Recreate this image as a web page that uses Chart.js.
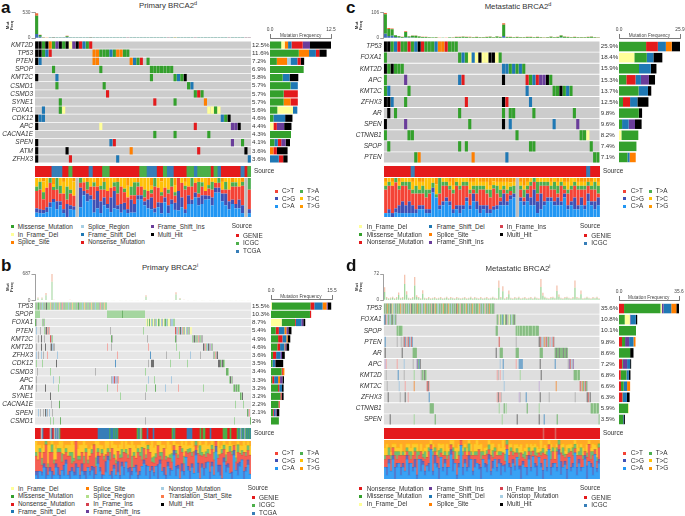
<!DOCTYPE html>
<html><head><meta charset="utf-8">
<style>
html,body{margin:0;padding:0;background:#fff;width:685px;height:516px;overflow:hidden;font-family:"Liberation Sans",Arial,sans-serif;color:#333}
canvas{position:absolute;display:block}
.t{position:absolute;white-space:nowrap;line-height:1;transform:translateY(-50%)}
.m{position:absolute}
sup{font-size:70%;line-height:0}
</style>
<script src="https://cdn.jsdelivr.net/npm/chart.js@4/dist/chart.umd.min.js"></script>
</head><body>
<script>
/* ---------- colours by mutation code ---------- */
const typeColors={M:'#33a02c',N:'#e31a1c',D:'#1f78b4',I:'#6a3d9a',S:'#ff7f00',Y:'#ffff99',H:'#000000',L:'#a6cee3',
 g:'#a5d6a0',G:'#6fb36a',k:'#b5b5b5',K:'#707070',o:'#f5c99c',O:'#f09a50',b:'#a9c9e0',B:'#5c9ac8',r:'#f2aaa6',R:'#d9605c',p:'#c7b2d8',P:'#8f6fb3',y:'#f7f7b5',
 U:'#4daf4a',V:'#377eb8'};
const substColors=['#2196f3','#3f51b5','#f44336','#4caf50','#ffc107','#ff9800'];
const substColorsDense=['rgba(33,150,243,.85)','rgba(63,81,181,.8)','rgba(244,67,54,.8)','rgba(76,175,80,.75)','rgba(255,193,7,.8)','rgba(255,152,0,.8)'];

/* ---------- panel a : Primary BRCA2 d ---------- */
const aGenes=['KMT2D','TP53','PTEN','SPOP','KMT2C','CSMD1','CSMD3','SYNE1','FOXA1','CDK12','APC','CACNA1E','SPEN','ATM','ZFHX3'];
const aPct=['12.5%','11.6%','7.2%','6.9%','5.8%','5.7%','5.7%','5.7%','5.6%','4.6%','4.4%','4.3%','4.1%','3.6%','3.6%'];
const aRows=['0:HHMHSMIHMHYIHNDMN','0:HHMDN 17:SSMMMDMSSMM','0:HD 17:SS 28:SDMN 33:M','5:M 19:M 34:MMMMMMM','0:H 6:D 34:M 41:MDMH','6:M 20:M 45:MD','21:N 47:MNM','7:M 35:N 41:M 50:S','2:D 7:MY 51:YYMY','0:HDD 55:DMH','0:H 19:Y 47:N 58:IIH','35:M 41:M 51:M','0:H 22:DN 58:I 61:M','0:H 9:H 28:S 48:N 62:H','0:H 10:N 24:D 63:D'];
const aSource='5:VVV 10:U 16:V 20:UU 31:UU 33:VVV 38:UVV 45:UUV 48:UUUU 53:UV 61:V 63:U';
const aFreqM=[2.3,5.9,1.4,6.9,2.6,4.2,2.8,2.8,1.5,0.7,0,4.3,0.9,0,0];
const aFreqY=[0.7,0,0,0,0,0,0,0,3.2,0,0.7,0,0,0,0];
const aFreqS=[0.7,2.1,2.1,0,0,0,0,1.4,0,0,0,0,0,0.7,0];
const aFreqL=[0,0,0.7,0,0,0,0,0,0,0,0,0,0,0,0];
const aFreqD=[0.7,1.4,1.4,0,1.4,1.5,0,0,0.9,2.4,0,0,0.7,0,1.8];
const aFreqN=[2.3,0.7,0.7,0,0,0,2.9,1.5,0,0,0.7,0,0.7,0.7,0.9];
const aFreqI=[1.5,0,0,0,0,0,0,0,0,0,1.5,0,0.9,0,0];
const aFreqH=[4.3,1.5,0.7,0,1.8,0,0,0,0,1.5,1.5,0,0.9,2.2,0.9];
const aTmbM=[380,38,6,4,3,5,2,3,4,24,3,2,3,2,2,3,2,3,2,1,2,3,2,2,3,2,2,1,2,3,2,2,2,2,3,2,2,2,3,1,2,9,2,2,3,2,2,1,2,2,2,3,2,2,2,3,2,1,2,2,2,2,1,1];
const aTmbN=[55,6,2,2,1,3,1,1,2,8,1,1,2,1,1,2,4,1,1,1,1,2,1,1,1,1,1,2,1,1,1,2,1,4,1,1,1,1,1,2,1,3,1,1,1,2,1,1,1,1,1,1,1,1,2,1,1,1,1,1,1,1,1,1];
const aTmbD=[85,26,6,3,2,2,2,1,1,14,1,1,1,2,1,1,2,1,1,2,1,1,1,1,1,2,1,1,1,1,2,1,1,1,1,2,1,1,1,1,1,3,1,2,1,1,1,1,1,1,1,1,1,1,1,1,1,1,2,1,1,1,1,1];
const aCA=[1,1,1,1,2,5,2,3,1,0,2,2,0,2,5,4,4,1,2,1,3,2,1,2,2,1,2,1,1,1,4,4,3,2,2,1,2,1,3,1,3,2,1,2,1,3,3,4,3,3,4,5,3,5,5,4,3,2,3,2,2,1,0,1];
const aCG=[1,1,1,1,1,1,2,1,1,3,1,1,0,4,1,2,1,3,4,3,2,1,3,4,1,2,2,1,3,2,1,1,1,2,3,1,1,3,1,2,1,2,3,2,1,2,1,1,2,2,1,1,2,1,1,2,3,2,1,1,2,2,0,1];
const aCT=[4,5,3,4,4,3,3,2,4,1,3,3,0,1,2,1,2,3,1,3,2,3,2,1,3,4,3,3,1,2,2,2,1,2,1,5,3,2,2,3,3,2,2,3,5,2,3,2,1,2,1,2,2,1,1,1,1,3,3,4,3,5,0,5];
const aTA=[1,2,2,0,1,1,3,2,0,3,1,0,0,1,0,2,0,1,0,1,2,0,0,1,3,0,1,0,2,3,1,0,2,0,1,2,0,1,0,1,2,1,0,0,1,0,2,0,3,1,0,1,2,0,1,0,2,0,1,1,0,1,0,3];
const aTC=[2,1,3,2,0,1,0,2,3,2,3,4,0,0,1,0,2,1,0,2,0,3,2,1,0,2,3,3,2,1,0,2,3,3,1,0,2,3,2,3,0,2,0,1,1,2,0,1,0,1,3,0,1,1,0,2,1,3,0,1,2,0,0,0];
const aTG=[0,0,1,0,0,2,0,0,1,0,0,1,0,0,0,1,0,0,2,0,1,0,0,0,1,0,0,2,0,0,1,0,0,0,2,0,0,1,0,0,0,2,0,0,1,0,0,0,1,0,0,2,0,0,0,1,0,0,1,0,0,1,0,0];

/* ---------- panel c : Metastatic BRCA2 d ---------- */
const cGenes=['TP53','FOXA1','KMT2D','APC','KMT2C','ZFHX3','AR','SPEN','CTNNB1','SPOP','PTEN'];
const cPct=['25.9%','18.4%','15.9%','15.3%','13.7%','12.5%','9.8%','9.6%','8.2%','7.4%','7.1%'];
const cRows=['0:HHMDNMMNMDHNMMMDSSNMMM','0:M 22:MDMYDYHYYHHYM','0:HMHMMM 35:DDMDMDM','0:M 6:I 22:DN 35:H 42:NMDNIIHM','0:MD 7:M 42:D 50:MMHMDM','0:HHD 6:M 24:N 35:HN 43:D','1:H 3:M 22:M 35:M 37:MM 44:M 56:M','0:H 6:I 25:M 35:H 37:D 50:D 57:I','0:M 7:MM 39:M 58:MMY','1:M 22:M 24:M 43:MM 61:M','9:MS 26:S 36:D 62:MM'];
const cSource='8:V 60:V';
const cFreqY=[0,6.5,0,0,0,0,0,0,1,0,0];
const cFreqM=[11.5,5.3,8.5,3.1,8.3,1.7,8.4,1.3,7.2,7.4,3.6];
const cFreqN=[5,0,0,3.9,0,3,0,0,0,0,0];
const cFreqD=[3.4,2.8,5,2.3,4,3.1,0,2.8,0,0,0.9];
const cFreqS=[2.5,0,0,0,0,0,0,0,0,0,2.6];
const cFreqI=[0,0,0,3.4,0,0,0,2.7,0,0,0];
const cFreqH=[3.5,3.8,2.4,2.6,1.4,4.7,1.4,2.8,0,0,0];
const cTmbM=[82,30,28,7,5,3,22,4,7,8,5,3,3,2,2,3,1,1,1,2,2,3,3,4,3,3,2,3,2,2,3,4,2,5,3,48,3,3,2,3,2,2,3,3,2,3,2,1,2,4,2,3,8,4,3,2,3,2,2,2,3,4,2,1];
const cTmbN=[6,4,3,1,1,1,3,1,1,1,1,1,1,1,0,1,1,0,1,0,1,1,1,1,1,2,1,1,1,1,1,1,1,1,1,6,1,1,1,1,1,1,1,1,1,1,1,1,1,1,1,1,2,1,1,1,1,1,1,1,1,1,1,1];
const cTmbD=[18,8,9,4,2,1,3,2,2,1,1,1,1,1,1,0,0,1,0,1,0,1,1,1,1,0,1,1,1,1,1,1,1,1,1,8,1,1,1,1,1,1,1,1,1,1,1,1,1,1,1,1,2,1,1,1,1,1,1,1,1,1,1,1];
const cCA=[1,1,0,1,1,1,1,1,1,1,2,2,1,1,5,6,2,3,4,3,1,2,1,2,4,2,4,2,1,2,1,1,2,2,3,3,3,4,5,0,4,3,4,3,3,1,2,3,4,4,3,3,3,5,2,3,2,2,3,2,4,3,2,3];
const cCG=[0,1,1,1,2,3,2,3,2,1,1,1,1,1,1,0,1,1,1,1,1,1,2,1,1,1,2,2,2,1,2,1,1,1,1,3,1,1,1,0,1,1,2,2,4,3,4,1,1,1,1,2,1,1,1,1,3,1,2,1,2,1,2,2];
const cCT=[6,6,7,6,4,4,5,3,3,4,3,3,3,4,0,0,3,4,3,3,4,5,4,5,3,3,1,2,4,4,3,3,5,3,1,1,2,1,0,0,2,1,1,3,2,2,2,4,3,2,3,1,4,1,3,3,3,4,2,4,2,3,3,1];
const cTA=[1,1,0,1,1,1,1,2,1,2,1,2,2,1,1,1,4,1,1,1,1,1,1,1,1,1,1,2,1,1,1,2,1,2,2,1,1,1,2,0,1,2,1,1,1,3,1,1,1,1,2,2,1,1,1,1,1,1,1,1,1,1,2,2];
const cTC=[1,1,1,0,1,1,1,1,2,2,2,1,3,3,1,3,0,1,1,1,1,1,2,1,1,2,1,2,1,1,2,1,1,1,2,1,2,1,1,0,1,1,1,1,0,1,1,1,1,1,1,1,1,1,2,2,1,1,1,1,0,1,1,1];
const cTG=[1,0,1,0,1,0,0,0,1,0,1,1,0,0,0,2,0,0,0,1,2,0,0,0,0,1,1,0,1,1,1,2,1,1,1,1,1,1,1,0,1,2,1,0,0,0,0,0,0,1,0,1,0,1,1,0,0,1,1,1,1,1,0,1];

/* ---------- panel b : Primary BRCA2 i ---------- */
const bGenes=['TP53','SPOP','FOXA1','PTEN','KMT2C','KMT2D','ZFHX3','CDK12','CSMD3','APC','ATM','SYNE1','CACNA1E','SPEN','CSMD1'];
const bPct=['15.5%','10.3%','8.7%','5.4%','4.9%','4.6%','3.6%','3.5%','3.4%','3.3%','3.2%','3.2%','2.2%','2.1%','2%'];
const bRows=[
'0:gkgGgkgbgkgKgggogkgbggkgogkrgkgggbgkgogggkgGkggbgogkggkgogkgbgggkrgkgogg',
'0:ggggg 72:gggggggggggggggGgggggggggggggggggggggg',
'0:Gk 7:gkg 111:ygyGybgykgbyGgybkygGbgyykbbgg',
'1:b 5:k 9:g 10:kKrkr 75:k 108:g 140:RkbrgKbrgkybkgkyy',
'3:k 6:K 9:k 15:Rkg 76:Gk 112:k 140:Gk 157:gkKgkgrkgkk',
'1:k 6:K 10:K 15:kKbkk 72:r 76:k 113:r 141:g 168:KkrgbKkpgk',
'1:b 3:k 6:b 8:k 12:r 22:b 82:r 115:B 131:k 144:g 155:b 165:k 178:kgrkK',
'1:g 7:g 21:K 80:B 113:k 116:KKK 135:g 152:g 183:KKGkKGg',
'2:k 15:g 60:k 110:g 191:GGg',
'1:k 18:b 24:g 76:kbpRbpkr 113:b 119:g 136:b 194:gKgk',
'1:k 10:K 23:g 72:g 82:r 111:g 120:G 130:b 143:r 168:g 198:gGkGgGg',
'15:K 85:g 110:k 205:GgK',
'16:k 24:G 200:g 208:g',
'3:b 5:k 8:k 10:K 11:b 12:k 14:b 17:k 212:Gkr',
'15:g 18:g 25:G 110:k 199:g 215:G'];
const bSource='6:k 7:V 15:k 16:V 19:k 20:VkVkU 63:VVVVVVVVV 72:VVUVVVUVUVU 102:UVUkU 112:V 118:V 137:UVU 152:VVVVV 165:U 168:UU 175:V 188:UUUU 195:U 202:UVUkVUVkUVUVUV';
const bFreqY=[0.2,0,2.7,0,0,0,0,0,0,0,0,0,0,0,0];
const bFreqM=[9.8,9.9,3.4,1.2,1.8,1.6,0.5,0.4,2.7,0.3,1.8,2.4,1.9,0.5,2];
const bFreqN=[1,0.3,0.2,0.8,1.1,0.7,0.8,0,0.3,0.5,0.3,0.3,0.3,0.2,0];
const bFreqD=[2.1,0,1.4,1.4,1,1.1,1.1,0.6,0,1,0.7,0.1,0,0.4,0];
const bFreqS=[1,0,0,0.5,0.3,0.2,0,0,0.4,0.5,0,0,0,0,0];
const bFreqI=[0.3,0,0.5,0.5,0,0.3,0.4,0.1,0,0.6,0,0,0,0.3,0];
const bFreqH=[0.9,0,0.5,0.8,0.7,0.7,0.7,2,0,0.4,0.4,0.4,0,0.7,0];
const bTmbM=[6,50,5,50,8,130,7,6,487,9,5,6,7,8,6,5,5,9,4,6,7,5,3,4,6,5,3,4,5,6,4,3,5,4,6,3,4,5,3,4,6,5,4,3,5,4,6,3,4,5,3,4,5,6,4,90,8,4,3,5,6,4,3,4,5,3,4,6,5,4,150,5,40,8,10,6,4,5,7,4,3,6,5,4,3,5,6,4,3,4,5,3,5,7,4,3,5,4,3,5,4,6,3,4,3,5,4,3];
const bTmbO=[2,20,2,20,3,60,3,2,200,3,2,3,2,3,2,2,2,3,2,2,3,2,1,2,2,2,1,2,2,2,2,1,2,2,2,1,2,2,1,2,2,2,2,1,2,2,2,1,2,2,1,2,2,2,2,40,3,2,1,2,2,2,1,2,2,1,2,2,2,2,60,2,20,3,4,2,2,2,3,2,1,2,2,2,1,2,2,2,1,2,2,1,2,3,2,1,2,2,1,2,2,2,1,2,1,2,2,1];
const bCA=[1,0,2,1,3,0,1,2,0,1,3,1,0,2,1,4,1,0,2,1,1,3,0,2,1,0,3,1,2,0,1,4,2,0,1,2,5,1,0,3,1,2,0,3,1,4,2,0,1,3,2,0,1,2,4,1,3,0,2,1,3,0,4,2,1,0,3,1,2,5,1,3,0,2,1,4,2,0,3,1,5,2,0,3,1,2,4,0,3,1,5,2,1,0,4,2,3,1,0,5,2,1,3,4,0,2,3,1];
const bCG=[1,2,0,1,1,3,0,1,2,0,1,2,1,0,3,1,0,2,1,1,3,0,1,2,1,2,0,1,1,3,0,2,1,1,0,3,1,0,2,1,0,3,1,1,2,0,1,3,1,0,2,1,1,0,1,3,0,2,1,1,0,3,1,0,2,1,1,2,0,1,3,1,0,2,1,0,1,2,1,0,1,3,0,1,2,1,0,2,1,0,1,2,3,0,1,2,1,0,2,1,0,3,1,0,2,1,1,0];
const bCT=[4,3,5,2,3,6,2,4,5,3,1,4,6,2,3,2,5,4,1,3,6,2,4,3,2,5,1,4,3,6,2,1,3,5,4,2,1,4,6,2,3,3,5,1,4,2,3,5,1,3,2,6,4,1,3,2,4,5,1,3,2,4,1,3,5,4,1,3,2,1,4,2,6,3,2,1,3,5,2,4,1,3,5,2,4,1,2,5,3,4,1,2,3,6,2,1,3,4,5,1,2,3,2,1,5,3,2,4];
const bTA=[1,0,1,2,0,1,1,0,2,1,0,1,1,2,0,1,0,1,3,1,0,1,1,0,2,1,1,0,1,0,2,1,0,1,1,0,1,2,0,1,1,0,1,2,0,1,1,0,3,1,0,1,1,2,0,1,1,0,1,2,1,0,1,2,0,1,0,1,2,0,1,1,0,1,2,0,1,1,1,0,1,0,2,1,0,1,1,0,1,2,0,1,0,1,1,2,0,1,1,0,1,2,0,1,0,1,1,0];
const bTC=[3,4,1,3,2,0,5,2,1,4,3,1,2,3,2,1,3,2,3,4,0,2,3,2,4,1,3,2,1,0,4,2,3,1,2,4,2,1,2,3,4,1,3,2,1,2,3,1,4,2,3,1,2,1,2,3,0,2,4,3,2,1,3,2,1,2,4,3,1,1,2,3,0,2,3,2,1,1,3,1,0,2,1,2,3,2,1,3,1,2,0,4,2,1,1,3,2,1,2,0,3,1,2,1,3,2,1,2];
const bTG=[0,1,1,2,1,0,1,1,0,1,2,1,0,0,2,1,1,1,0,1,0,2,1,1,0,1,2,2,1,1,0,0,1,1,2,0,0,2,0,1,1,2,1,0,2,0,1,1,0,1,2,1,1,0,0,1,1,1,0,2,1,0,0,1,1,2,0,1,2,0,1,1,1,0,1,0,1,1,0,1,0,2,0,1,1,0,1,1,0,1,0,0,2,1,0,1,1,0,1,1,1,0,1,1,0,1,0,1];

/* ---------- panel d : Metastatic BRCA2 i ---------- */
const dGenes=['TP53','FOXA1','SPOP','PTEN','AR','APC','KMT2D','KMT2C','ZFHX3','CTNNB1','SPEN'];
const dPct=['35.6%','10.8%','10.1%','9.8%','8.6%','7.2%','6.8%','6.6%','6.3%','5.9%','3.5%'];
const dRows=[
'0:GkGOGgKGogbGkGgGOgkGrGgGbGoKGgGkGOGgGkbGgOGkGgGrGKgOGgbGkGgOGGkGOgGbGkGgKOGgrGGkGgOGbGkGOgGkGGgOkGbGgrGkGOGgGGk',
'0:BKrbGkbGKgbGk 113:GkyGgBGyGKkgyGbgGKg',
'13:GgGGGg 112:GG 132:GgGgGGgGGgGGgGGGgGGgGGG',
'1:B 13:k 17:k 19:kRBrkRBbRB 115:R 132:k 155:KRkbkOkRkGkrbkRk',
'0:kK 18:K 29:GGGG 112:K 116:GGG 132:GGG 156:GGG 171:GKGGKGGGKGGKG',
'1:pr 13:r 20:b 29:k 33:PGBK 116:b 119:B 132:r 135:BBBB 156:K 171:B 184:kPRbkP',
'2:k 14:B 20:k 30:g 37:kGgKGg 113:rk 116:r 119:b 136:g 157:K 190:GGGgGG',
'3:k 15:b 21:r 30:O 43:RKr 120:b 155:p 172:O 196:RkOGkRGk',
'4:K 16:k 21:K 24:r 45:B 113:rKrrk 135:pk 142:B 156:K 165:k 191:k 203:KRkK',
'46:GGGG 115:g 120:G 122:g 143:G 155:g 207:GGgGGgGG',
'6:K 30:g 51:G 118:g 133:K 155:K 160:B 173:G 215:G'];
const dSource='159:R 171:R';
const dFreqN=[3,0,0,1.8,0,1.8,1,1.2,2,0,0];
const dFreqM=[21.6,3.4,10.1,1.8,6.6,0.4,3.4,1.6,0.3,5.4,2.4];
const dFreqY=[0.8,3,0,0,0,0,0,0,0,0.5,0];
const dFreqI=[1,0.4,0,2.4,0,2.6,0.2,0,0,0,0];
const dFreqD=[4.6,3.2,0,2.6,0,1.8,1.2,2,2.4,0,0.3];
const dFreqS=[3,0,0,1.2,0,0,0,1.8,0,0,0];
const dFreqH=[2,0.8,0,0,2,0.6,1,0,1.6,0,0.8];
const dTmbM=[22,5,3,4,6,3,5,14,4,5,44,15,4,3,5,40,8,5,3,17,4,3,5,3,4,5,3,4,5,3,4,6,3,5,4,3,5,4,3,4,5,3,4,6,3,5,4,3,5,3,4,5,3,4,6,4,3,34,5,24,3,5,16,4,3,5,4,6,3,4,5,3,4,5,3,6,4,3,36,12,6,4,3,5,6,4,25,9,4,3,5,6,4,3,5,34,5,4,16,3,4,6,4,3,5,4,6,3];
const dTmbO=[13,3,2,3,3,2,3,7,2,3,26,9,2,2,3,24,5,3,2,10,2,2,3,2,2,3,2,2,3,2,2,3,2,3,2,2,3,2,2,2,3,2,2,3,2,3,2,2,3,2,2,3,2,2,3,2,2,20,3,14,2,3,10,2,2,3,2,3,2,2,3,2,2,3,2,3,2,2,22,8,3,2,2,3,3,2,15,6,2,2,3,3,2,2,3,20,3,2,10,2,2,3,2,2,3,2,3,2];
const dCA=[3,1,4,2,5,0,3,4,1,3,2,5,1,4,2,3,0,5,2,4,1,3,2,6,1,4,3,0,5,2,4,1,3,5,2,4,0,3,6,1,4,2,3,5,1,3,4,2,0,5,3,2,4,1,3,5,2,4,1,3,2,6,3,1,4,2,5,3,0,4,3,1,5,2,4,3,1,5,3,0,4,2,6,1,3,4,2,5,1,3,4,0,5,2,3,6,1,4,2,3,5,0,4,3,1,5,2,4];
const dCG=[0,2,1,0,1,3,1,0,2,1,0,1,3,0,1,2,1,0,3,1,1,0,2,0,1,2,1,3,0,1,1,2,0,1,3,0,1,1,0,2,1,1,3,0,1,2,0,1,3,0,1,2,1,1,2,0,1,1,3,0,2,0,1,2,1,1,0,1,3,1,0,2,1,1,0,1,3,0,1,2,0,1,0,2,1,0,1,1,3,0,1,2,0,1,1,0,2,1,1,0,1,3,0,1,2,0,1,1];
const dCT=[2,3,1,3,2,3,1,2,3,2,4,1,2,1,3,2,4,1,2,1,3,2,3,1,4,1,2,3,1,3,1,2,3,1,2,1,4,2,1,3,2,3,1,1,4,1,2,3,2,1,2,3,1,4,1,2,3,1,2,3,1,1,2,4,1,3,1,2,3,1,2,3,1,3,1,2,3,1,2,4,1,3,1,2,3,1,4,1,2,3,1,3,1,4,2,1,3,1,3,2,1,2,4,1,3,1,2,3];
const dTA=[1,0,2,1,0,1,2,1,0,1,0,1,1,2,0,1,2,1,0,1,2,0,1,0,1,1,0,2,1,0,1,1,1,0,1,2,0,1,0,1,1,0,2,1,0,1,1,0,2,1,0,1,1,0,2,1,0,1,1,0,2,1,0,1,1,0,1,2,0,1,2,0,1,1,0,2,1,0,1,1,0,1,0,2,1,0,1,1,0,2,1,0,1,0,2,1,0,1,2,1,0,1,0,2,1,0,1,1];
const dTC=[2,3,0,1,1,2,1,1,3,0,1,1,2,1,3,1,2,0,2,1,1,3,1,1,2,0,1,2,1,3,0,3,1,1,2,1,3,2,0,1,1,2,1,2,1,2,3,1,2,0,2,1,1,3,2,0,1,2,1,3,2,0,3,1,0,2,1,2,2,1,1,3,0,2,1,1,2,1,3,0,2,1,1,2,0,3,1,0,2,1,1,2,1,2,0,1,3,1,1,2,0,2,1,1,2,1,3,0];
const dTG=[2,1,2,3,1,1,2,2,1,3,3,1,1,2,1,1,1,3,1,3,2,1,1,0,1,2,3,1,1,1,3,1,2,0,0,2,2,1,0,2,1,2,0,1,3,1,0,1,1,3,2,2,0,1,1,2,3,1,2,0,2,0,1,1,3,1,1,2,1,3,2,1,2,1,1,1,2,2,0,2,1,2,0,1,2,2,1,0,1,1,3,1,1,1,2,0,1,2,1,2,3,1,0,2,1,1,2,1];

/* ---------- helpers ---------- */
Chart.defaults.font.family='"Liberation Sans",Arial,sans-serif';
Chart.defaults.color='#333';
const TXT='#333';
function mk(x,y,w,h,cfg){
  const c=document.createElement('canvas');
  const W=Math.ceil(w),H=Math.ceil(h);
  c.width=W;c.height=H;
  c.style.left=x+'px';c.style.top=y+'px';c.style.width=W+'px';c.style.height=H+'px';
  document.body.appendChild(c);
  const userLayout=(cfg.options&&cfg.options.layout)||{};
  cfg.options=Object.assign({responsive:false,animation:false,events:[]},cfg.options||{});
  cfg.options.layout=Object.assign({padding:0,autoPadding:false},userLayout);
  cfg.options.plugins=Object.assign({legend:{display:false},tooltip:{enabled:false}},cfg.options.plugins||{});
  return new Chart(c.getContext('2d'),cfg);
}
function label(x,y,html,size,extra){
  const s=document.createElement('div');s.className='t';s.innerHTML=html;
  s.style.left=x+'px';s.style.top=y+'px';s.style.fontSize=size+'px';
  if(extra)Object.assign(s.style,extra);
  document.body.appendChild(s);return s;
}
function mark(x,y,color,sz){
  const s=document.createElement('div');s.className='m';sz=sz||3;
  s.style.left=(x-sz/2)+'px';s.style.top=(y-sz/2)+'px';s.style.width=sz+'px';s.style.height=sz+'px';s.style.background=color;
  document.body.appendChild(s);
}
function parseRow(str){
  const out=[];
  str.trim().split(/\s+/).filter(Boolean).forEach(tok=>{
    const [p,codes]=tok.split(':');let pos=+p;
    for(const ch of codes){out.push({s:pos,c:ch});pos++;}
  });
  return out;
}
function noInset(s){s.paddingTop=0;s.paddingBottom=0;}
function cellChart(box,cats,rows,n,opt){
  const parsed=rows.map(parseRow);
  const layers=Math.max(0,...parsed.map(r=>r.length));
  const gap=opt.gap||0;
  const ds=[];
  for(let k=0;k<layers;k++){
    ds.push({data:parsed.map(r=>r[k]?[r[k].s+gap,r[k].s+1-gap]:null),
      backgroundColor:parsed.map(r=>r[k]?(typeColors[r[k].c]):'#000'),
      barPercentage:opt.bar,categoryPercentage:1});
  }
  /* first dataset paints on top, so the empty-cell backdrop goes last */
  ds.push({data:cats.map(()=>[0,n]),backgroundColor:opt.bg,barPercentage:opt.bar,categoryPercentage:1});
  const scales={
    x:{type:'linear',min:0,max:n,display:false},
    y:{type:'category',labels:cats,position:'left',offset:true,
       display:true,grid:{display:false,drawTicks:false},border:{display:false},
       ticks:{autoSkip:false,padding:opt.leftPad||2,font:{size:6.5,style:'italic'},color:TXT,callback(v,i){return opt.noLeft?'':cats[i];}},
       afterFit(s){s.width=opt.left;noInset(s);}},
    y1:{type:'category',labels:opt.right,position:'right',offset:true,
       grid:{display:false,drawTicks:false},border:{display:false},
       ticks:{autoSkip:false,padding:opt.rightPad||1,font:{size:opt.rightSize||6.2},color:TXT},
       afterFit(s){s.width=opt.rw;noInset(s);}}
  };
  mk(box[0],box[1],box[2],box[3],{type:'bar',data:{labels:cats,datasets:ds},
    options:{indexAxis:'y',datasets:{bar:{grouped:false}},scales}});
}
function tmbChart(box,left,top,bottom,series,colors,max,frac){
  mk(box[0],box[1],box[2],box[3],{type:'bar',
    data:{labels:series[0].map((_,i)=>i),datasets:series.map((d,i)=>({data:d,backgroundColor:colors[i],barPercentage:frac,categoryPercentage:1}))},
    options:{layout:{padding:{top:top,bottom:bottom}},scales:{
      x:{stacked:true,display:false},
      y:{stacked:true,min:0,max:max,
        title:{display:true,text:['Mut','Freq'],font:{size:4.4,weight:'bold',lineHeight:1.05},padding:0,color:TXT},
        grid:{drawOnChartArea:false,tickLength:3.5,color:'#777',lineWidth:.7},
        border:{color:'#777',width:.7},
        afterBuildTicks(s){s.ticks=[{value:0},{value:max}];},
        ticks:{autoSkip:false,font:{size:4.8},color:'#555',padding:1,callback:v=>String(v)},
        afterFit(s){s.width=left;noInset(s);}}
    }}});
}
function mixChart(box,series,n){
  const none=series[0].map((_,i)=>series.some(s=>s[i]>0)?0:1);
  const totals=series[0].map((_,i)=>series.reduce((a,s)=>a+s[i],0)||1);
  const pal=n>80?substColorsDense:substColors;
  const ds=series.map((s,k)=>({data:s.map((v,i)=>v/totals[i]),backgroundColor:pal[k],barPercentage:n>80?1:.92,categoryPercentage:1}));
  ds.push({data:none,backgroundColor:'#bdbdbd',barPercentage:.92,categoryPercentage:1});
  mk(box[0],box[1],box[2],box[3],{type:'bar',data:{labels:series[0].map((_,i)=>i),datasets:ds},
    options:{scales:{x:{stacked:true,display:false},y:{stacked:true,display:false,min:0,max:1}}}});
}
function freqChart(box,genes,series,codes,bar){
  mk(box[0],box[1],box[2],box[3],{type:'bar',
    data:{labels:genes,datasets:series.map((d,i)=>({data:d,backgroundColor:typeColors[codes[i]],barPercentage:bar,categoryPercentage:1}))},
    options:{indexAxis:'y',scales:{x:{stacked:true,display:false,min:0,max:box[4]},y:{stacked:true,display:false}}}});
}
function freqAxis(x0,x1,yLine,max){
  const pad=12,H=14;
  mk(x0-pad,yLine-H,(x1-x0)+2*pad,H+2,{type:'scatter',data:{datasets:[{data:[]}]},
    options:{layout:{padding:{left:pad,right:pad}},scales:{
      y:{display:false},
      x:{type:'linear',position:'top',min:0,max:max,
        grid:{drawOnChartArea:false,tickLength:4,color:'#444',lineWidth:.7},
        border:{color:'#444',width:.7},
        afterBuildTicks(s){s.ticks=[{value:0},{value:max}];},
        ticks:{autoSkip:false,maxRotation:0,font:{size:4.8},color:'#444',padding:1.5,callback:v=>v.toFixed(1)},
        afterFit(s){s.height=H;}}
    }}});
  label((x0+x1)/2,yLine-2.2,'Mutation Frequency',4.7,{transform:'translate(-50%,-50%)',color:'#444'});
}
function legend(items,size){items.forEach(it=>{mark(it[0],it[2],it[3]);label(it[1],it[2],it[4],size||6.4);});}

/* ---------- mutation code legends, one list per panel ---------- */
const aLegendNames=['Missense_Mutation','In_Frame_Del','Splice_Site','Splice_Region','Frame_Shift_Del','Nonsense_Mutation','Frame_Shift_Ins','Multi_Hit'];
const aLegendCodes=['M','Y','S','L','D','N','I','H'];
const cLegendNames=['In_Frame_Del','Missense_Mutation','Nonsense_Mutation','Frame_Shift_Del','Splice_Site','Frame_Shift_Ins','In_Frame_Ins','Multi_Hit'];
const cLegendColors=['#ffff99','#33a02c','#e31a1c','#1f78b4','#ff7f00','#6a3d9a','#d6404e','#000'];
const bLegendNames=['In_Frame_Del','Missense_Mutation','Nonsense_Mutation','Frame_Shift_Del','Splice_Site','Splice_Region','In_Frame_Ins','Frame_Shift_Ins','Nonstop_Mutation','Translation_Start_Site','Multi_Hit'];
const bLegendColors=['#ffff99','#33a02c','#e31a1c','#1f78b4','#ff7f00','#b2df8a','#d6404e','#6a3d9a','#a6cee3','#fb7a4a','#000'];
const dLegendNames=['Nonsense_Mutation','Missense_Mutation','In_Frame_Del','Frame_Shift_Ins','Frame_Shift_Del','Splice_Site','In_Frame_Ins','Nonstop_Mutation','Multi_Hit'];
const dLegendColors=['#e31a1c','#33a02c','#ffff99','#6a3d9a','#1f78b4','#ff7f00','#d6404e','#a6cee3','#000'];
const substNames=['C>T','C>G','C>A','T>A','T>C','T>G'];
const substLegendColors=['#f44336','#3f51b5','#2196f3','#4caf50','#ffc107','#ff9800'];

/* ---------- shared small text ---------- */
function title(cx,y,html){label(cx,y,html,7.8,{transform:'translate(-50%,-50%)'});}
function letter(x,y,t){label(x,y,t,17,{fontWeight:'bold',color:'#111'});}
function subst(x,y0){
  [0,1,2].forEach(i=>{mark(x,y0+i*7.65,substLegendColors[i]);label(x+6,y0+i*7.65,substNames[i],6.4);
    mark(x+25.3,y0+i*7.65,substLegendColors[i+3]);label(x+31,y0+i*7.65,substNames[i+3],6.4);});
}
function sourceLegend(x,y,names,cols){
  label(x,y,'Source',6.4);
  names.forEach((nm,i)=>{mark(x+5.3,y+9.7+i*7.75,cols[i]);label(x+11.3,y+9.7+i*7.75,nm,6.4);});
}

/* ---------- panel a ---------- */
letter(1,7,'a');title(168,6,'Primary BRCA2<sup>d</sup>');
tmbChart([5,8,246,32],30,4.7,2,[aTmbD,aTmbM,aTmbN],['#3f6fb5','#33a02c','#ef6a3a'],530,.9);
cellChart([0,41,270,122],aGenes,aRows,64,{bg:'#cccccc',bar:.9,gap:.04,left:35,right:aPct,rw:19,rightPad:1});
cellChart([35,166,250,11],['Source'],[aSource],64,{bg:'#e41a1c',bar:1,left:0,noLeft:true,right:['Source'],rw:34,rightPad:3,rightSize:6.4});
mixChart([35,178,216,39],[aCA,aCG,aCT,aTA,aTC,aTG],64);
freqChart([270.3,41,61,122,12.5],aGenes,[aFreqM,aFreqY,aFreqS,aFreqL,aFreqD,aFreqN,aFreqI,aFreqH],['M','Y','S','L','D','N','I','H'],.88);
freqAxis(270.3,331,37.7,12.5);
subst(276,191);
legend(aLegendNames.map((nm,i)=>{
  const col=[[12,17.7],[82.7,88],[152,157.7]][i<3?0:i<6?1:2];
  const row=i<3?i:i<6?i-3:i-6;
  return [col[0],col[1],226.7+row*7.8,typeColors[aLegendCodes[i]],nm];
}));
sourceLegend(231.7,226,['GENIE','ICGC','TCGA'],['#e41a1c','#4daf4a','#377eb8']);

/* ---------- panel c ---------- */
letter(346,7,'c');title(518,6.5,'Metastatic BRCA2<sup>d</sup>');
tmbChart([354,8,246,32],29.7,4.7,2,[cTmbD,cTmbM,cTmbN],['#3f6fb5','#33a02c','#ef6a3a'],106,.9);
cellChart([340,41,279,122],cGenes,cRows,64,{bg:'#cccccc',bar:.92,gap:.04,left:43.7,right:cPct,rw:19.3,rightPad:1});
cellChart([383.7,166,260,11],['Source'],[cSource],64,{bg:'#e41a1c',bar:1,left:0,noLeft:true,right:['Source'],rw:44,rightPad:3,rightSize:6.4});
mixChart([383.7,178,216,39],[cCA,cCG,cCT,cTA,cTC,cTG],64);
freqChart([619,41,60.7,122,25.9],cGenes,[cFreqY,cFreqM,cFreqN,cFreqD,cFreqS,cFreqI,cFreqH],['Y','M','N','D','S','I','H'],.86);
freqAxis(619,679.7,37.7,25.9);
subst(624.7,191);
legend(cLegendNames.map((nm,i)=>{
  const col=[[360.7,366.7],[430.7,436.7],[501,506.7]][i<3?0:i<6?1:2];
  const row=i<3?i:i<6?i-3:i-6;
  return [col[0],col[1],226.7+row*7.8,cLegendColors[i],nm];
}));
sourceLegend(580,226,['GENIE','ICGC'],['#e41a1c','#377eb8']);

/* ---------- panel b ---------- */
letter(1,265,'b');title(170,268,'Primary BRCA2<sup>i</sup>');
tmbChart([5,270,246,32],30,4,1.7,[bTmbM,bTmbO],['#a5d6a0','#f2b8a0'],687,.55);
cellChart([0,302,270,123],bGenes,bRows,216,{bg:'#e6e6e6',bar:.9,left:35,right:bPct,rw:19,rightPad:1});
cellChart([35,428,250,11],['Source'],[bSource],216,{bg:'#e41a1c',bar:1,left:0,noLeft:true,right:['Source'],rw:34,rightPad:3,rightSize:6.4});
mixChart([35,441,216,38],[bCA,bCG,bCT,bTA,bTC,bTG],108);
freqChart([270.7,302,60.3,123,15.5],bGenes,[bFreqY,bFreqM,bFreqN,bFreqD,bFreqS,bFreqI,bFreqH],['Y','M','N','D','S','I','H'],.88);
freqAxis(270.7,331,299.3,15.5);
subst(276,453);
legend(bLegendNames.map((nm,i)=>{
  const col=[[12,18],[87.3,93.3],[162.7,168.7]][i<4?0:i<8?1:2];
  const row=i<4?i:i<8?i-4:i-8;
  return [col[0],col[1],488.7+row*7.67,bLegendColors[i],nm];
}));
sourceLegend(247.7,488,['GENIE','ICGC','TCGA'],['#e41a1c','#4daf4a','#377eb8']);

/* ---------- panel d ---------- */
letter(346,265,'d');title(518,268.5,'Metastatic BRCA2<sup>i</sup>');
tmbChart([354,270,246,32],29.7,4,2,[dTmbM,dTmbO],['#8fcf8a','#f2b8a0'],72,.55);
cellChart([340,303,279,122],dGenes,dRows,216,{bg:'#dedede',bar:.92,left:43.7,right:dPct,rw:19.3,rightPad:1});
cellChart([383.7,428,260,11],['Source'],[dSource],216,{bg:'#e41a1c',bar:1,left:0,noLeft:true,right:['Source'],rw:44,rightPad:3,rightSize:6.4});
mixChart([383.7,440,216,39],[dCA,dCG,dCT,dTA,dTC,dTG],108);
freqChart([619,303,60,122,35.6],dGenes,[dFreqN,dFreqM,dFreqY,dFreqI,dFreqD,dFreqS,dFreqH],['N','M','Y','I','D','S','H'],.86);
freqAxis(619,678.5,300.3,35.6);
subst(624.7,453);
legend(dLegendNames.map((nm,i)=>{
  const col=[[360.7,366.7],[430.7,436.7],[501,506.7]][i<3?0:i<6?1:2];
  const row=i<3?i:i<6?i-3:i-6;
  return [col[0],col[1],488.7+row*7.67,dLegendColors[i],nm];
}));
sourceLegend(580,488,['GENIE','ICGC'],['#e41a1c','#377eb8']);
</script>
</body></html>
